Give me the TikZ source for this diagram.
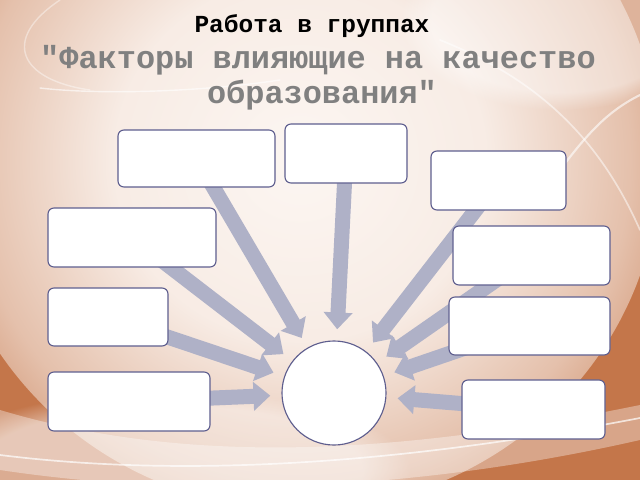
\documentclass[tikz,border=0pt]{standalone}
\usepackage{fontspec}
\newfontfamily\titlefont{Liberation Mono}
\usetikzlibrary{arrows.meta,shapes,fadings}
\definecolor{copper}{HTML}{C4764A}
\definecolor{cream}{HTML}{FCF6F2}
\definecolor{arrowgray}{HTML}{AFB1C7}
\definecolor{boxline}{HTML}{5E5E8E}
\definecolor{titlegray}{HTML}{808080}
\pgfdeclareradialshading{glow}{\pgfpointorigin}{color(0bp)=(cream); color(13bp)=(cream!92!copper); color(23bp)=(cream!58!copper); color(33bp)=(copper); color(50bp)=(copper)}
\pgfdeclarelayer{bg}
\pgfdeclarelayer{arrowlayer}
\pgfsetlayers{bg,arrowlayer,main}
\tikzset{
        framed/.style={draw=boxline, line width=0.8pt, fill=white, inner sep=0pt},
        % Factor boxes
        node_factor/.style={framed, rectangle, rounded corners=1.5mm, minimum height=1.475cm},
        % Central circle
        node_hub/.style={framed, circle, minimum size=2.6cm},
        % Thick arrows
        arrow_factor/.style={draw=arrowgray, line width=0.375cm, -{Triangle[width=0.7cm,length=0.42cm]}, shorten >=0.28cm},
        % Title lines
        title_line/.style={anchor=base, font=\titlefont\bfseries\fontsize{17.4}{20}\selectfont},
        topic_line/.style={anchor=base, text=titlegray, font=\titlefont\bfseries\fontsize{22.7}{25}\selectfont},
        % White streaks of the background
        streak/.style={draw=white, line cap=round}
}
\begin{document}
\begin{tikzpicture}[x=0.025cm, y=-0.025cm]
    \useasboundingbox (0,0) rectangle (640,480);

    \node[title_line] (title) at (312,32) {Работа в группах};
    \node[topic_line] (topic) at (318,68) {"Факторы влияющие на качество};
    \node[topic_line] (topic_end) at (322,103) {образования"};

    \node[node_hub] (hub) at (334,393) {};
    \node[node_factor, minimum width=3.925cm, minimum height=1.425cm] (f1) at (196.5,158.5) {};
    \node[node_factor, minimum width=3.05cm] (f2) at (346,153.5) {};
    \node[node_factor, minimum width=3.375cm] (f3) at (498.5,180.5) {};
    \node[node_factor, minimum width=3.925cm] (f4) at (531.5,255.5) {};
    \node[node_factor, minimum width=4.025cm, minimum height=1.45cm] (f5) at (529.5,326) {};
    \node[node_factor, minimum width=3.575cm] (f6) at (533.5,409.5) {};
    \node[node_factor, minimum width=4.2cm] (f7) at (132,237.5) {};
    \node[node_factor, minimum width=3cm, minimum height=1.45cm] (f8) at (108,317) {};
    \node[node_factor, minimum width=4.05cm] (f9) at (129,401.5) {};

    \begin{pgfonlayer}{arrowlayer}
        \foreach \f in {f1,f2,f3,f4,f5,f6,f7,f8,f9}
            \draw[arrow_factor] (\f.center) -- (hub);
    \end{pgfonlayer}

    \begin{pgfonlayer}{bg}
        \fill[copper] (0,0) rectangle (640,480);
        \begin{scope}
            \clip (0,0) rectangle (640,480);
            \shade[shading=glow] (300,160) ellipse [x radius=360, y radius=350];
            % soft light at top right and bottom left
            \fill[white, opacity=0.45, path fading=circle with fuzzy edge 20 percent] (560,20) ellipse [x radius=160, y radius=90];
            \fill[white, opacity=0.4, path fading=circle with fuzzy edge 20 percent] (170,470) ellipse [x radius=240, y radius=80];
            % bottom band
            \fill[white, opacity=0.35] (0,410) .. controls (200,470) and (420,450) .. (640,405)
                -- (640,440) .. controls (420,490) and (200,500) .. (0,470) -- cycle;
            \draw[streak, opacity=0.7, line width=1.2pt] (0,455) .. controls (200,480) and (420,460) .. (640,418);
            \draw[streak, opacity=0.6, line width=1pt] (40,88) .. controls (100,95) and (200,92) .. (280,80);
            \draw[streak, opacity=0.4, line width=1pt] (60,0) .. controls (0,40) and (20,80) .. (90,90);
            % top right arcs
            \draw[streak, opacity=0.5, line width=1.2pt] (440,40) .. controls (540,80) and (600,140) .. (640,230);
            \draw[streak, opacity=0.6, line width=1.5pt] (560,170) .. controls (590,130) and (610,110) .. (640,95);
        \end{scope}
    \end{pgfonlayer}
\end{tikzpicture}
\end{document}
